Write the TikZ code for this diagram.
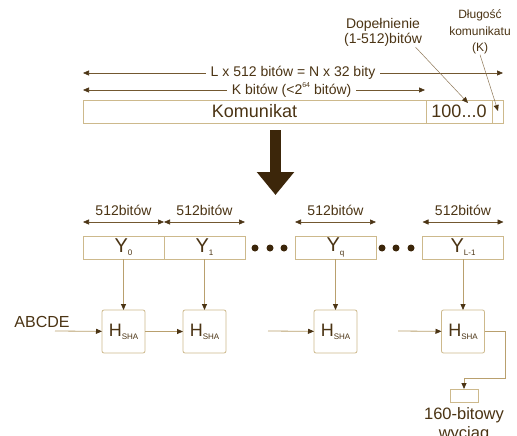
\documentclass[tikz,border=0pt]{standalone}
\usepackage{fontspec}
\setmainfont{Liberation Sans}
\usetikzlibrary{arrows.meta, positioning}
\definecolor{txtbrown}{RGB}{75,52,20}
\definecolor{boxtan}{RGB}{205,185,140}
\definecolor{linetan}{RGB}{185,160,110}
\definecolor{dimbrown}{RGB}{115,88,48}
\definecolor{bigbrown}{RGB}{60,38,10}
\newcommand{\lowidx}[1]{\raisebox{-0.3ex}{\fontsize{8}{8}\selectfont #1}}
\newcommand{\hiidx}[1]{\raisebox{0.9ex}{\fontsize{7}{7}\selectfont #1}}

\begin{document}
\begin{tikzpicture}[
  x=1pt, y=-1pt,
  seg/.style={draw=boxtan, line width=0.8pt, minimum height=23pt, inner sep=0pt,
              outer sep=0pt, font=\fontsize{18}{18}\selectfont, text=txtbrown},
  blk/.style={draw=boxtan, line width=0.8pt, minimum height=23pt, minimum width=81pt,
              inner sep=0pt, outer sep=0pt, font=\fontsize{20}{20}\selectfont, text=txtbrown},
  hbox/.style={draw=boxtan, line width=0.8pt, rounded corners=2pt, minimum size=43pt,
               inner sep=0pt, outer sep=0pt, font=\fontsize{18}{18}\selectfont, text=txtbrown},
  lbl/.style={font=\fontsize{14}{15}\selectfont, text=txtbrown, align=center},
  dimarr/.style={{Triangle[length=6pt,width=5pt,color=txtbrown]}-{Triangle[length=6pt,width=5pt,color=txtbrown]},
                 draw=dimbrown, line width=0.6pt},
  arrow/.style={-{Triangle[length=6pt,width=5pt,color=txtbrown]}, draw=linetan, line width=0.8pt},
  ptr/.style={-{Triangle[length=6pt,width=5pt,color=txtbrown]}, draw=dimbrown!80!white,
              line width=0.5pt},
  bigarrow/.style={-{Triangle[length=23pt,width=36pt]}, draw=bigbrown, line width=11pt}
]
\useasboundingbox[fill=white] (0,0) rectangle (517,436);

% message with padding and length field
\node[seg, minimum width=343pt] at (254.5,111.5) (msg) {Komunikat};
\node[seg, minimum width=66pt, right=0pt of msg] (pad) {100...0};
\node[seg, minimum width=11pt, right=0pt of pad] (len) {};

\coordinate (lA) at (83,73);  \coordinate (lB) at (503,73);
\coordinate (kA) at (83,90);  \coordinate (kB) at (425,90);
\draw[dimarr] (lA) -- (lB) node[midway, lbl, fill=white, inner xsep=5pt, inner ysep=1pt]
  {L x 512 bitów = N x 32 bity};
\draw[dimarr] (kA) -- (kB) node[pos=0.61, lbl, fill=white, inner xsep=5pt, inner ysep=1pt]
  {K bitów (<2\hiidx{64} bitów)};

\node[lbl] at (383,32.5) (dop) {Dopełnienie\\(1-512)bitów};
\node[lbl, font=\fontsize{12}{16.5}\selectfont] at (480,32) (dl) {Długość\\komunikatu\\(K)};
\coordinate (padtip) at (468,103);
\coordinate (lentip) at (498,111);
\draw[ptr] ([xshift=-10pt,yshift=3pt]dop.south east) -- (padtip);
\draw[ptr] ([yshift=3pt]dl.south) -- (lentip);

% split into blocks
\coordinate (bigtop) at (275.5,130);
\coordinate (bigtip) at (275.5,195);
\draw[bigarrow] (bigtop) -- (bigtip);

\node[blk] at (123.5,247.5) (y0) {Y\lowidx{0}};
\node[blk, right=0pt of y0] (y1) {Y\lowidx{1}};
\node[blk] at (335.5,247.5) (yq) {Y\lowidx{q}};
\node[blk] at (463,247.5) (yl) {Y\lowidx{L-1}};

\foreach \x in {255,270,284,382,396,411}
  \fill[bigbrown] (\x,248) circle (3.5pt);

\foreach \b/\h in {y0/h0, y1/h1, yq/h2, yl/h3} {
  \draw[dimarr] ([yshift=14pt]\b.north west) -- ([yshift=14pt]\b.north east)
    node[midway, above=3pt, lbl] {512bitów};
  \node[hbox, below=51pt of \b] (\h) {H\lowidx{SHA}};
  \draw[arrow] (\b) -- (\h);
}

% chaining values
\node[lbl, font=\fontsize{16}{16}\selectfont] at (42,322) (abc) {ABCDE};
\coordinate (in0) at (55,331);
\coordinate (in2) at (268,331);
\coordinate (in3) at (398,331);
\draw[arrow] (in0) -- (h0);
\draw[arrow] (h0) -- (h1);
\draw[arrow] (in2) -- (h2);
\draw[arrow] (in3) -- (h3);

\node[draw=boxtan, line width=0.8pt, minimum width=28pt, minimum height=13pt, inner sep=0pt,
      outer sep=0pt] at (464,395.5) (out) {};
\coordinate (turn) at (505,378);
\draw[arrow] (h3.east) -| (turn) -| (out.north);
\node[lbl, font=\fontsize{16.5}{19}\selectfont, below=2pt of out] (dig) {160-bitowy\\wyciąg};
\end{tikzpicture}
\end{document}
